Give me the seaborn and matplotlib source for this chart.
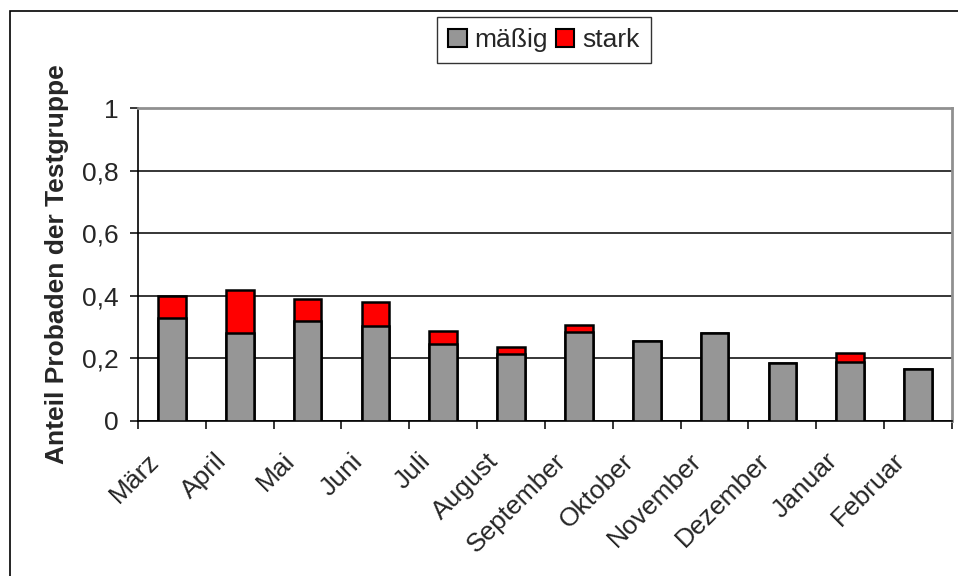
import seaborn as sns
import matplotlib.pyplot as plt
import matplotlib.patches as mpatches
from matplotlib.transforms import ScaledTranslation
import numpy as np
import pandas as pd

monate = ['März', 'April', 'Mai', 'Juni', 'Juli', 'August', 'September',
          'Oktober', 'November', 'Dezember', 'Januar', 'Februar']
maessig = [0.33, 0.28, 0.32, 0.305, 0.245, 0.215, 0.285, 0.257, 0.281, 0.185, 0.19, 0.167]
stark = [0.07, 0.14, 0.07, 0.075, 0.043, 0.02, 0.022, 0.0, 0.0, 0.0, 0.027, 0.0]

df = pd.DataFrame({'Monat': monate, 'maessig': maessig, 'stark': stark})
df['gesamt'] = df['maessig'] + df['stark']

sns.set_style('white')
plt.rcParams['font.family'] = ['Liberation Sans', 'DejaVu Sans']
fs = 19

fig = plt.figure(figsize=(9.58, 5.76), dpi=100)
ax = fig.add_axes([138/958, 155/576, 814/958, 313/576])

# outer frame of the chart object
fig.patches.append(mpatches.Rectangle((10/958, -0.1), 1.2, 1 - 11/576 + 0.1,
                                      transform=fig.transFigure, fill=False,
                                      edgecolor='black', linewidth=1.2))

w = 0.41
sns.barplot(data=df, x='Monat', y='gesamt', color='#ff0000', edgecolor='black',
            linewidth=1.8, width=w, saturation=1, ax=ax, zorder=3)
sns.barplot(data=df, x='Monat', y='maessig', color='#969696', edgecolor='black',
            linewidth=1.8, width=w, saturation=1, ax=ax, zorder=4)

ax.set_ylim(0, 1)
ax.set_xlim(-0.5, len(monate) - 0.5)
ax.set_yticks([0, 0.2, 0.4, 0.6, 0.8, 1])
ax.set_yticklabels(['0', '0,2', '0,4', '0,6', '0,8', '1'], fontsize=fs)
ax.yaxis.grid(True, color='black', linewidth=1.1, zorder=0)
ax.set_axisbelow(True)

ax.set_xticks(np.arange(len(monate)))
ax.set_xticklabels(monate, fontsize=fs, rotation=45, ha='right', rotation_mode='anchor')
ax.set_xticks(np.arange(len(monate) + 1) - 0.5, minor=True)
ax.tick_params(axis='x', which='major', length=0, pad=20)
ax.tick_params(axis='x', which='minor', length=6, width=1.1, color='black', direction='out', bottom=True)
ax.tick_params(axis='y', length=6, width=1.1, color='black', direction='out', left=True, pad=8)
for lbl in ax.get_xticklabels():
    lbl.set_transform(lbl.get_transform() + ScaledTranslation(-0.25, 0, fig.dpi_scale_trans))

ax.set_xlabel('')
ax.set_ylabel('Anteil Probaden der Testgruppe', fontsize=fs, fontweight='bold', labelpad=9)

for s in ['left', 'bottom']:
    ax.spines[s].set_color('black')
    ax.spines[s].set_linewidth(1.2)
for s in ['top', 'right']:
    ax.spines[s].set_visible(True)
    ax.spines[s].set_color('#909090')
    ax.spines[s].set_linewidth(2)

handles = [mpatches.Patch(facecolor='#969696', edgecolor='black', linewidth=1.5, label='mäßig'),
           mpatches.Patch(facecolor='#ff0000', edgecolor='black', linewidth=1.5, label='stark')]
leg = fig.legend(handles=handles, loc='center', bbox_to_anchor=(544/958, 1 - 40/576),
                 ncol=2, fontsize=fs, frameon=True, fancybox=False,
                 handlelength=0.7, handleheight=0.7, handletextpad=0.3,
                 columnspacing=0.3, borderpad=0.42, borderaxespad=0)
leg.get_frame().set_edgecolor('black')
leg.get_frame().set_linewidth(1.0)

fig.savefig('out.png', dpi=100)
